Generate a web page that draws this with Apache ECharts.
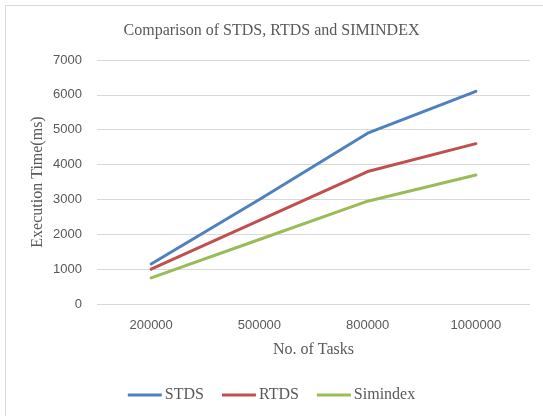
<!DOCTYPE html>
<html>
<head>
<meta charset="utf-8">
<script src="https://cdn.jsdelivr.net/npm/echarts@6/dist/echarts.min.js"></script>
<style>
html,body{margin:0;padding:0;background:#fff;}
#chart{width:543px;height:416px;}
</style>
</head>
<body>
<div id="chart"></div>
<script>
const categories = ['200000', '500000', '800000', '1000000'];
const stds = [1150, 3000, 4900, 6100];
const rtds = [1000, 2400, 3800, 4600];
const simindex = [750, 1850, 2950, 3700];
const seriesNames = ['STDS', 'RTDS', 'Simindex'];
const colors = ['#4F81BD', '#C0504D', '#9BBB59'];

const chart = echarts.init(document.getElementById('chart'), null, {renderer: 'canvas'});
const serif = 'Liberation Serif, Times New Roman, serif';
const sans = 'Liberation Sans, Arial, sans-serif';
const txt = '#595959';

function mk(name, data, color) {
  return {
    name: name, type: 'line', data: data, symbol: 'none',
    lineStyle: {color: color, width: 3, cap: 'round'},
    itemStyle: {color: color}
  };
}

chart.setOption({
  animation: false,
  backgroundColor: '#fff',
  graphic: [{
    type: 'rect', shape: {x: 5.5, y: 5.5, width: 560, height: 440},
    style: {fill: 'none', stroke: '#d9d9d9', lineWidth: 1}, silent: true, z: -1
  }],
  title: {
    text: 'Comparison of STDS, RTDS and SIMINDEX',
    left: 'center', top: 18,
    textStyle: {fontFamily: serif, fontSize: 16, fontWeight: 'normal', color: txt}
  },
  grid: {left: 97, right: 13, top: 60, bottom: 112, containLabel: false},
  legend: {
    data: seriesNames, bottom: 8, left: 'center',
    icon: 'rect', itemWidth: 34, itemHeight: 3, itemGap: 18,
    textStyle: {fontFamily: serif, fontSize: 16, color: txt, padding: [0, 0, 0, -2]}
  },
  xAxis: {
    type: 'category', data: categories, boundaryGap: true,
    name: 'No. of Tasks', nameLocation: 'middle', nameGap: 38,
    nameTextStyle: {fontFamily: serif, fontSize: 16, color: txt},
    axisLine: {show: false}, axisTick: {show: false},
    axisLabel: {fontFamily: sans, fontSize: 13, color: txt, margin: 15}
  },
  yAxis: {
    type: 'value', min: 0, max: 7000, interval: 1000,
    name: 'Execution Time(ms)', nameLocation: 'middle', nameGap: 51,
    nameMoveOverlap: false,
    nameTextStyle: {fontFamily: serif, fontSize: 16, color: txt},
    axisLine: {show: false}, axisTick: {show: false},
    axisLabel: {fontFamily: sans, fontSize: 13, color: txt, margin: 15,
      formatter: function (v) { return String(v); }},
    splitLine: {lineStyle: {color: '#d9d9d9', width: 1}}
  },
  series: [
    mk(seriesNames[0], stds, colors[0]),
    mk(seriesNames[1], rtds, colors[1]),
    mk(seriesNames[2], simindex, colors[2])
  ]
});
</script>
</body>
</html>
